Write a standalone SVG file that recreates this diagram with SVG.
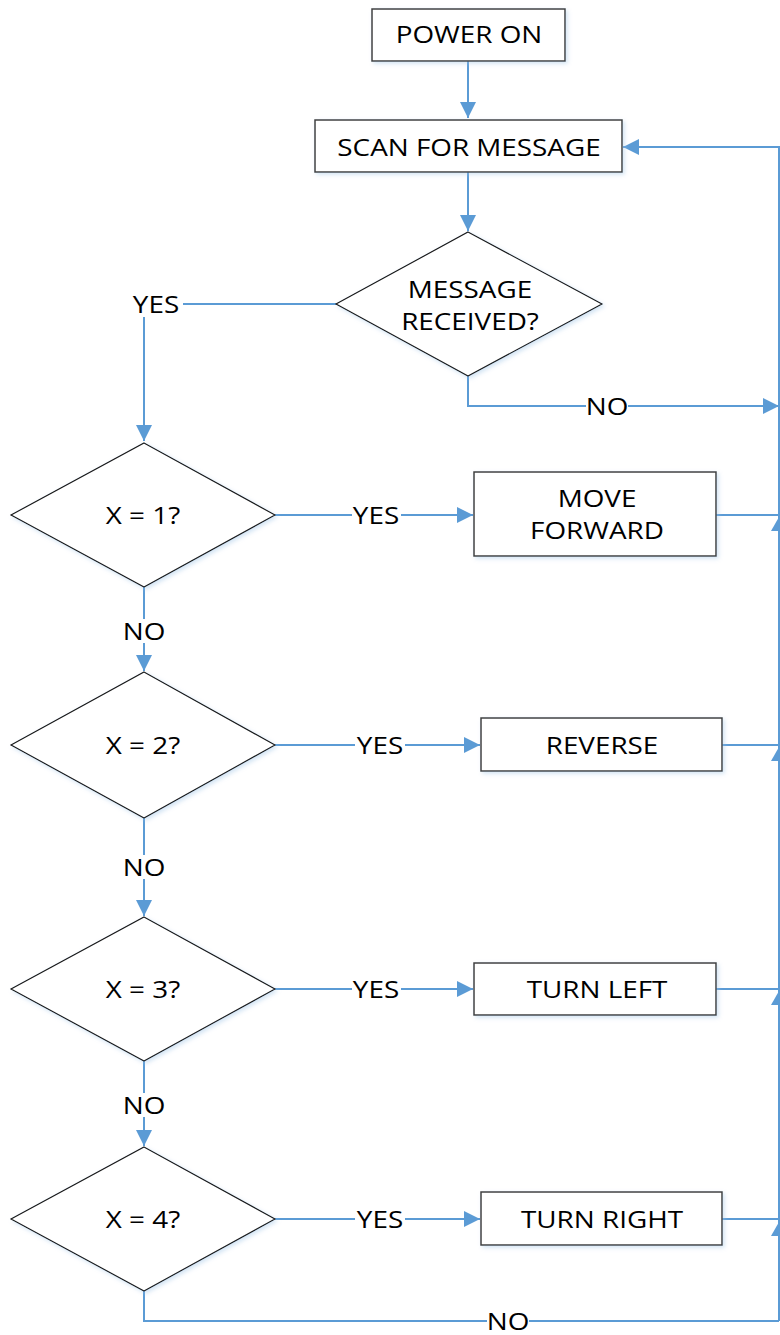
<svg xmlns="http://www.w3.org/2000/svg" width="780" height="1335" viewBox="0 0 780 1335">
<style>
.box{fill:#fff;stroke:#404040;stroke-width:1.5;filter:url(#sh)}
.dia{fill:#fff;stroke:#1a1a1a;stroke-width:1.2;filter:url(#sh)}
.t{font-family:"Open Sans","Liberation Sans",sans-serif;font-size:24px;fill:#000;text-anchor:middle}
.c{fill:none;stroke:#5B9BD5;stroke-width:2}
.ah{fill:#5B9BD5}
.lb{fill:#fff}
</style>
<defs>
<filter id="sh" x="-10%" y="-10%" width="130%" height="130%">
<feDropShadow dx="2" dy="2" stdDeviation="2" flood-color="#9DC3E6" flood-opacity="0.45"/>
</filter>
<marker id="arr" markerUnits="userSpaceOnUse" markerWidth="17" markerHeight="17" refX="16" refY="8" orient="auto">
<path d="M0,0 L16,8 L0,16 z" fill="#5B9BD5"/>
</marker>
</defs>

<g id="connectors">
<line class="c" x1="468" y1="61" x2="468" y2="118" marker-end="url(#arr)"/>
<line class="c" x1="468" y1="172" x2="468" y2="231" marker-end="url(#arr)"/>
<path class="c" d="M336,304 H144 V441" marker-end="url(#arr)"/>
<path class="c" d="M468,376 V406 H779" marker-end="url(#arr)"/>
<line class="c" x1="275" y1="515" x2="473" y2="515" marker-end="url(#arr)"/>
<line class="c" x1="144" y1="587" x2="144" y2="671" marker-end="url(#arr)"/>
<line class="c" x1="275" y1="745" x2="480" y2="745" marker-end="url(#arr)"/>
<line class="c" x1="144" y1="818" x2="144" y2="916" marker-end="url(#arr)"/>
<line class="c" x1="275" y1="989" x2="473" y2="989" marker-end="url(#arr)"/>
<line class="c" x1="144" y1="1061" x2="144" y2="1146" marker-end="url(#arr)"/>
<line class="c" x1="275" y1="1219" x2="480" y2="1219" marker-end="url(#arr)"/>
<path class="c" d="M144,1291 V1321 H779"/>
<line class="c" x1="716" y1="515" x2="779" y2="515"/>
<line class="c" x1="722" y1="745" x2="779" y2="745"/>
<line class="c" x1="716" y1="989" x2="779" y2="989"/>
<line class="c" x1="722" y1="1219" x2="779" y2="1219"/>
<path class="c" d="M779,1321 V147 H623" marker-end="url(#arr)"/>
<polygon class="ah" points="779,517 771,531 787,531"/>
<polygon class="ah" points="779,747 771,761 787,761"/>
<polygon class="ah" points="779,991 771,1005 787,1005"/>
<polygon class="ah" points="779,1222 771,1236 787,1236"/>
<rect class="lb" x="130" y="292" width="53" height="25"/>
<text class="t" transform="translate(156 312.5) scale(1.16 1)">YES</text>
<rect class="lb" x="586" y="394" width="42" height="24"/>
<text class="t" transform="translate(607 414.5) scale(1.16 1)">NO</text>
<rect class="lb" x="352" y="503" width="49" height="24"/>
<text class="t" transform="translate(376 523.5) scale(1.16 1)">YES</text>
<rect class="lb" x="122" y="619" width="44" height="24"/>
<text class="t" transform="translate(144 639.5) scale(1.16 1)">NO</text>
<rect class="lb" x="355" y="733" width="50" height="24"/>
<text class="t" transform="translate(380 753.5) scale(1.16 1)">YES</text>
<rect class="lb" x="122" y="855" width="44" height="24"/>
<text class="t" transform="translate(144 875.5) scale(1.16 1)">NO</text>
<rect class="lb" x="352" y="977" width="49" height="24"/>
<text class="t" transform="translate(376 997.5) scale(1.16 1)">YES</text>
<rect class="lb" x="122" y="1093" width="44" height="24"/>
<text class="t" transform="translate(144 1113.5) scale(1.16 1)">NO</text>
<rect class="lb" x="355" y="1207" width="50" height="24"/>
<text class="t" transform="translate(380 1227.5) scale(1.16 1)">YES</text>
<rect class="lb" x="487" y="1310" width="42" height="24"/>
<text class="t" transform="translate(508 1329.5) scale(1.16 1)">NO</text>
</g>

<g id="power-on">
<rect class="box" x="372" y="9" width="193" height="52"/>
<text class="t" transform="translate(469 43) scale(1.16 1)">POWER ON</text>
</g>
<g id="scan">
<rect class="box" x="315" y="120" width="307" height="52"/>
<text class="t" transform="translate(469 155.5) scale(1.16 1)">SCAN FOR MESSAGE</text>
</g>
<g id="msg-received">
<polygon class="dia" points="468,232 602,304 468,376 336,304"/>
<text class="t" transform="translate(470 297.5) scale(1.16 1)">MESSAGE</text>
<text class="t" transform="translate(470 329.5) scale(1.16 1)">RECEIVED?</text>
</g>
<g id="x1">
<polygon class="dia" points="144,443 275,515 144,587 11,515"/>
<text class="t" transform="translate(143 523.5) scale(1.16 1)">X = 1?</text>
</g>
<g id="move-forward">
<rect class="box" x="474" y="472" width="242" height="84"/>
<text class="t" transform="translate(597 506.5) scale(1.16 1)">MOVE</text>
<text class="t" transform="translate(597 538.5) scale(1.16 1)">FORWARD</text>
</g>
<g id="x2">
<polygon class="dia" points="144,672 275,745 144,818 11,745"/>
<text class="t" transform="translate(143 753.5) scale(1.16 1)">X = 2?</text>
</g>
<g id="reverse">
<rect class="box" x="481" y="718" width="241" height="53"/>
<text class="t" transform="translate(602 753.5) scale(1.16 1)">REVERSE</text>
</g>
<g id="x3">
<polygon class="dia" points="144,917 275,989 144,1061 11,989"/>
<text class="t" transform="translate(143 997.5) scale(1.16 1)">X = 3?</text>
</g>
<g id="turn-left">
<rect class="box" x="474" y="963" width="242" height="52"/>
<text class="t" transform="translate(597 997.5) scale(1.16 1)">TURN LEFT</text>
</g>
<g id="x4">
<polygon class="dia" points="144,1147 275,1219 144,1291 11,1219"/>
<text class="t" transform="translate(143 1227.5) scale(1.16 1)">X = 4?</text>
</g>
<g id="turn-right">
<rect class="box" x="481" y="1192" width="241" height="53"/>
<text class="t" transform="translate(602 1227.5) scale(1.16 1)">TURN RIGHT</text>
</g>
</svg>
